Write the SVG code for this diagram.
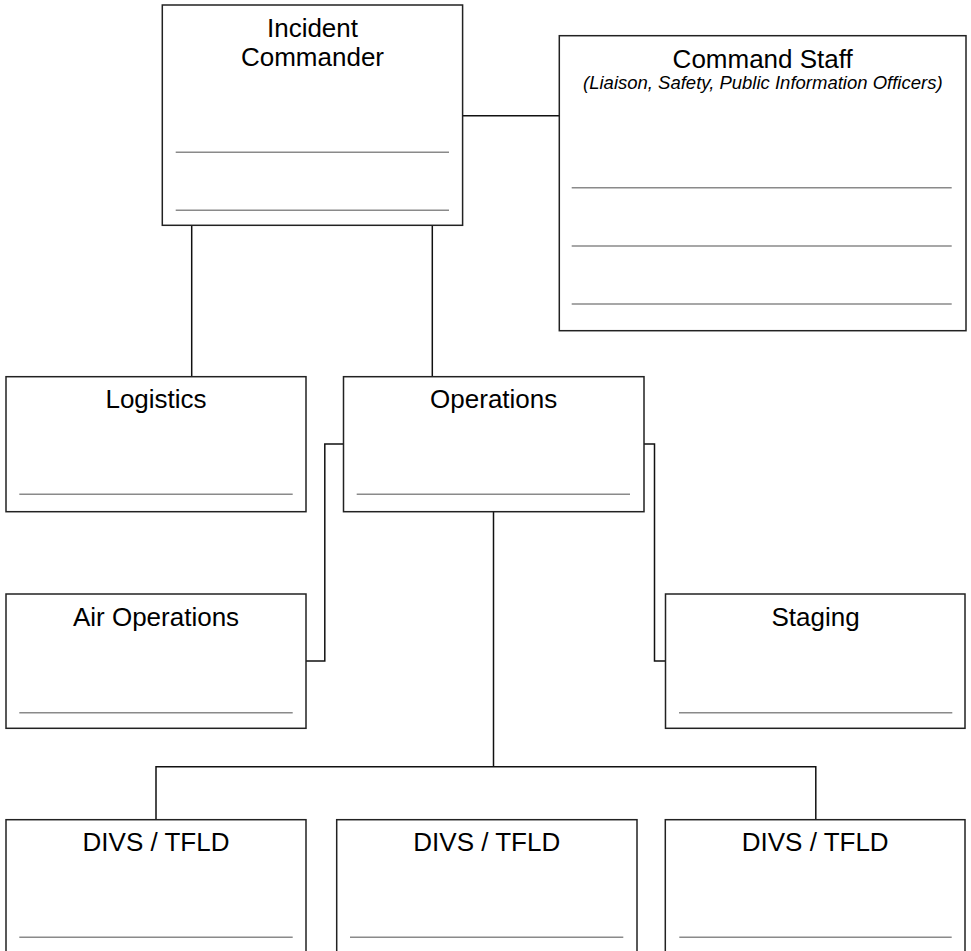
<svg xmlns="http://www.w3.org/2000/svg" width="971" height="951" viewBox="0 0 971 951">
<style>
.box{fill:#fff;stroke:#222;stroke-width:1.5}
.rule{stroke:#8a8a8a;stroke-width:1.5}
.conn{fill:none;stroke:#111;stroke-width:1.5}
.t{font-family:"Liberation Sans",Arial,sans-serif;font-size:26px;fill:#000;text-anchor:middle}
.sub{font-family:"Liberation Sans",Arial,sans-serif;font-size:18.5px;font-style:italic;fill:#000;text-anchor:middle}
</style>
<rect width="971" height="951" fill="#fff"/>
<g id="connectors">
<path class="conn" d="M462.5,115.7 H559.5"/>
<path class="conn" d="M191.7,225.3 V376.7"/>
<path class="conn" d="M432.3,225.3 V376.7"/>
<path class="conn" d="M343.5,444 H324.8 V661 H306"/>
<path class="conn" d="M644,444 H654.5 V661 H665.5"/>
<path class="conn" d="M493.5,511.7 V766.7"/>
<path class="conn" d="M156,819.7 V766.7 H815.8 V819.7"/>
</g>
<g id="incident-commander">
<rect class="box" x="162.3" y="5" width="300.3" height="220.3"/>
<text class="t" x="312.5" y="36.7">Incident</text>
<text class="t" x="312.5" y="65.7">Commander</text>
<line class="rule" x1="175.7" y1="152.3" x2="449" y2="152.3"/>
<line class="rule" x1="175.7" y1="210.3" x2="449" y2="210.3"/>
</g>
<g id="command-staff">
<rect class="box" x="559.3" y="35.7" width="406.7" height="295"/>
<text class="t" x="762.7" y="67.7">Command Staff</text>
<text class="sub" x="762.8" y="89.3">(Liaison, Safety, Public Information Officers)</text>
<line class="rule" x1="571.7" y1="187.7" x2="951.7" y2="187.7"/>
<line class="rule" x1="571.7" y1="246" x2="951.7" y2="246"/>
<line class="rule" x1="571.7" y1="304" x2="951.7" y2="304"/>
</g>
<g id="logistics">
<rect class="box" x="6" y="376.7" width="300" height="135"/>
<text class="t" x="156" y="408.3">Logistics</text>
<line class="rule" x1="19.3" y1="494.3" x2="292.7" y2="494.3"/>
</g>
<g id="operations">
<rect class="box" x="343.5" y="376.7" width="300.5" height="135"/>
<text class="t" x="493.7" y="408.3">Operations</text>
<line class="rule" x1="356.7" y1="494.3" x2="630" y2="494.3"/>
</g>
<g id="air-operations">
<rect class="box" x="6" y="594" width="300" height="134.3"/>
<text class="t" x="156" y="625.7">Air Operations</text>
<line class="rule" x1="19.3" y1="712.7" x2="292.7" y2="712.7"/>
</g>
<g id="staging">
<rect class="box" x="665.5" y="594" width="299.5" height="134.3"/>
<text class="t" x="815.5" y="625.7">Staging</text>
<line class="rule" x1="679" y1="712.7" x2="952.3" y2="712.7"/>
</g>
<g id="divs-1">
<rect class="box" x="6" y="819.7" width="300" height="135"/>
<text class="t" x="156" y="850.7">DIVS / TFLD</text>
<line class="rule" x1="19.3" y1="937.3" x2="292.7" y2="937.3"/>
</g>
<g id="divs-2">
<rect class="box" x="336.7" y="819.7" width="300.3" height="135"/>
<text class="t" x="486.8" y="850.7">DIVS / TFLD</text>
<line class="rule" x1="350" y1="937.3" x2="623.3" y2="937.3"/>
</g>
<g id="divs-3">
<rect class="box" x="665.3" y="819.7" width="299.7" height="135"/>
<text class="t" x="815.2" y="850.7">DIVS / TFLD</text>
<line class="rule" x1="679.3" y1="937.3" x2="951.7" y2="937.3"/>
</g>
</svg>
